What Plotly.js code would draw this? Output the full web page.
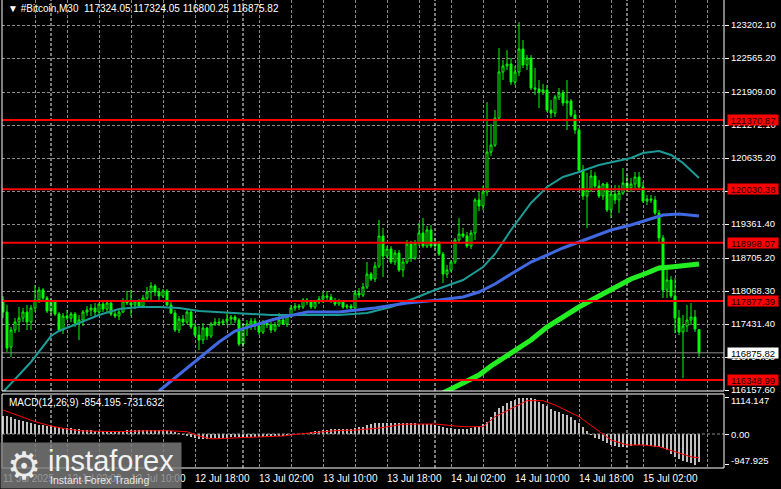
<!DOCTYPE html>
<html><head><meta charset="utf-8">
<script src="https://cdn.plot.ly/plotly-3.0.1.min.js"></script>
<style>html,body{margin:0;padding:0;background:#000;}#chart{width:781px;height:489px;}</style>
</head><body><div id="chart"></div>
<script>
// ---- candle data (30-minute bars, 11 Jul 18:00 .. 15 Jul 09:00) ----
const openP = [117895,117663,116988,117316,117470,117547,117663,117470,117740,117895,
118088,117933,117683,117856,117625,117316,117586,117547,117625,117451,
117509,117663,117702,117740,117663,117818,117721,117837,117625,117586,
117663,117876,117837,117798,117856,117779,117933,118049,118165,118049,
117972,118069,117798,117644,117316,117528,117470,117663,117374,117219,
117123,117354,117200,117432,117470,117451,117490,117528,117567,117509,
117046,117354,117432,117490,117393,117277,117451,117412,117316,117412,
117509,117432,117586,117740,117779,117760,117895,117856,117760,117856,
117914,117972,117953,117876,117818,117876,117760,117779,117740,118030,
117991,118146,118397,118300,118551,119130,118744,118879,118628,118802,
118474,118628,118976,118705,118995,119188,118937,119246,118937,118995,
118783,118397,118474,118628,119053,119169,119130,118937,119188,119825,
119709,119979,120751,120886,121407,122296,122411,122450,122102,122296,
122739,122430,122565,121987,121967,121909,121948,121562,121504,121813,
121890,121697,121736,121465,121176,120404,119902,120018,120288,120095,
119902,120134,119632,119941,119825,119960,120153,120057,120134,120269,
120076,119806,119844,119825,119574,119092,118088,118281,117972,117547,
117277,117393,117509,117567,117324.05];
const highP = [117972,117798,117374,117547,117760,117740,117798,117798,118184,118146,
118126,117972,117914,117895,117663,117644,117702,117663,117663,117605,
117702,117779,117818,117837,117837,117856,117895,117856,117702,117721,
117933,118069,118088,117895,117914,117991,118146,118242,118204,118126,
118107,118107,117856,117702,117586,117605,117702,117702,117451,117393,
117451,117374,117470,117547,117547,117528,117644,117605,117605,117547,
117412,117509,117547,117547,117470,117509,117509,117470,117470,117644,
117605,117625,117798,117837,117818,117933,117933,117895,117895,117972,
118049,118069,118011,117933,117914,117895,117818,117818,118088,118126,
118223,118628,118435,118628,119439,119285,118937,118937,118860,118860,
118705,119053,119034,119053,119381,119478,119323,119343,119092,119034,
118821,118570,118667,119092,119478,119285,119208,119246,119863,119979,
120095,121716,121292,121562,122758,122527,122720,122565,122411,123260,
122913,122623,122623,122373,122141,122064,122045,121755,121852,121987,
121948,122141,121774,121562,121215,120500,120346,120404,120365,120211,
120153,120173,120057,120114,120114,120443,120307,120250,120365,120365,
120173,119921,119921,119902,119632,119150,118570,118358,118319,117702,
117605,117798,117837,117702,117324.05];
const lowP = [117547,116891,116794,117258,117277,117470,117316,117316,117663,117837,
117856,117644,117625,117586,117277,117239,117509,117470,117374,117123,
117393,117586,117586,117586,117625,117663,117663,117586,117547,117509,
117644,117798,117586,117721,117740,117740,117856,117895,117972,117895,
117933,117779,117625,117277,117258,117393,117432,117335,117181,116930,
117046,117123,117161,117393,117393,117412,117412,117412,117451,117007,
116988,117200,117316,117316,117219,117239,117354,117258,117277,117374,
117412,117374,117547,117683,117702,117721,117798,117721,117721,117818,
117837,117895,117837,117779,117779,117721,117721,117721,117702,117933,
117953,118107,118262,118242,118512,118339,118705,118590,118570,118435,
118339,118590,118628,118667,118937,118899,118899,118899,118879,118744,
118223,118319,118435,118590,119014,119092,118899,118879,119053,119613,
119632,119902,120674,120848,121369,122141,122334,122045,122045,122218,
122373,122334,121948,121852,121601,121852,121523,121407,121427,121755,
121639,121176,121427,121099,120365,119825,119285,119979,120018,119863,
119825,119593,119478,119748,119574,119921,119979,119979,120018,120018,
119767,119728,119767,119535,119014,117933,117933,117933,117258,117219,
116389,117277,117412,117277,116800.25];
const closeP = [117663,116968,117316,117470,117547,117663,117470,117740,117895,118088,
117933,117683,117856,117625,117316,117586,117547,117625,117451,117509,
117663,117702,117740,117663,117818,117721,117837,117625,117586,117663,
117876,117837,117798,117856,117779,117933,118049,118165,118049,117972,
118069,117798,117644,117316,117528,117470,117663,117374,117219,117123,
117354,117200,117432,117470,117451,117490,117528,117567,117509,117046,
117354,117432,117490,117393,117277,117451,117412,117316,117412,117509,
117432,117586,117740,117779,117760,117895,117856,117760,117856,117914,
117972,117953,117876,117818,117876,117760,117779,117740,118030,117991,
118146,118397,118300,118551,119130,118744,118879,118628,118802,118474,
118628,118976,118705,118995,119188,118937,119246,118937,118995,118783,
118397,118474,118628,119053,119169,119130,118937,119188,119825,119709,
119979,120751,120886,121407,122296,122411,122450,122102,122296,122739,
122430,122565,121987,121967,121909,121948,121562,121504,121813,121890,
121697,121736,121465,121176,120404,119902,120018,120288,120095,119902,
120134,119632,119941,119825,119960,120153,120057,120134,120269,120076,
119806,119844,119825,119574,119092,118088,118281,117972,117547,117277,
117393,117509,117567,117335,116875.82];

// ---- moving averages, read at selected bars ----
const maTealBars = [0,7,12,14,19,24,29,34,39,44,49,54,59,67,76,84,91,97,103,108,115,120,123,127,132,136,140,144,149,154,157,160,164,167,170,174];
const maTealVals = [116119,116699,117200,117297,117451,117605,117721,117760,117760,117740,117683,117663,117644,117605,117605,117605,117644,117760,117933,118088,118281,118532,118783,119246,119767,120076,120269,120365,120500,120578,120636,120732,120771,120694,120539,120250];
const maBlueBars = [39,49,54,58,62,68,76,84,93,101,109,115,119,123,127,132,136,140,144,148,152,157,161,165,169,174];
const maBlueVals = [116139,116776,117084,117297,117393,117528,117663,117663,117740,117837,117895,117953,118049,118204,118397,118628,118763,118899,119014,119130,119246,119343,119439,119535,119555,119516];
const maGreenBars = [110,119,122,128,132,136,140,144,149,153,157,161,164,167,170,174];
const maGreenVals = [116100,116448,116621,116911,117123,117374,117567,117760,117972,118146,118300,118416,118512,118532,118551,118590];

// ---- MACD(12,26,9) ----
const macdHist = [560,540,520,470,430,400,370,340,300,290,
270,250,240,225,210,195,180,170,160,150,
135,125,115,105,100,95,92,90,90,95,
105,115,120,125,125,125,125,130,128,125,
125,115,95,60,30,-20,-60,-100,-130,-140,
-145,-140,-135,-130,-125,-120,-115,-105,-100,-95,
-90,-88,-85,-82,-80,-78,-75,-72,-70,-65,
-60,-50,-40,-20,0,20,40,60,80,100,
120,130,140,145,150,155,160,165,180,200,
230,270,310,330,345,350,345,340,335,330,
325,330,330,325,320,320,315,300,280,240,
200,180,170,165,160,160,165,180,210,250,
300,370,520,680,790,870,940,1000,1050,1090,
1110,1114.147,1100,1060,990,920,850,780,720,670,
620,570,510,440,330,200,100,-40,-110,-160,
-220,-280,-330,-370,-385,-390,-385,-370,-350,-340,
-340,-350,-365,-385,-390,-420,-500,-620,-700,-780,
-830,-870,-900,-947.925,-854.195];
const signalBars = [0,4,8,12,16,20,25,29,35,41,46,49,52,56,60,66,70,74,78,83,88,94,100,108,115,120,123,127,131,135,138,144,148,152,156,160,164,168,172,174];
const signalVals = [737,560,380,245,150,92,75,72,95,102,70,-60,-150,-133,-110,-82,-61,0,50,102,120,180,300,307,225,225,530,787,1023,1023,890,532,174,-184,-337,-337,-389,-542,-700,-731.632];

// ---- levels and labels ----
const levelPrices = [121370.87, 120030.38, 118998.07, 117877.39, 116348.99];
const levelLabels = ['121370.87','120030.38','118998.07','117877.39','116348.99'];
const currentPrice = 116875.82;
const currentLabel = '116875.82';
const priceTickVals = [123202.10,122565.20,121909.00,121272.10,120635.20,119998.30,119361.40,118705.20,118068.30,117431.40,116794.50,116157.60];
const priceTickText = ['123202.10','122565.20','121909.00','121272.10','120635.20','','119361.40','118705.20','118068.30','117431.40','116794.50','116157.60'];
const macdTickVals = [1114.147, 0, -947.925];
const macdTickText = ['1114.147','0.00','-947.925'];
const timeLabels = ['11 Jul 2025','12 Jul 02:00','12 Jul 10:00','12 Jul 18:00','13 Jul 02:00','13 Jul 10:00','13 Jul 18:00','14 Jul 02:00','14 Jul 10:00','14 Jul 18:00','15 Jul 02:00'];
const timeLabelBars = [0,16,32,48,64,80,96,112,128,144,160];
const daySeparatorBars = [12,60,108,156];
const headerText = '▼ #Bitcoin,M30\u00a0\u00a0117324.05 117324.05 116800.25 116875.82';
const macdHeader = 'MACD(12,26,9) -854.195 -731.632';

// ---- build ----
const W = 781, H = 489;
const px = v => v / W, py = v => (H - v) / H;
const barIndex = closeP.map((_, i) => i);
const gridBars = [];
for (let g = 0; g <= 180; g += 8) gridBars.push(g);
const XR = [-0.25, 180.25];
const FONT = 'Liberation Sans, Arial, sans-serif';
const GRID = '#8c8c8c';
const MAIN_Y = [116139, 123685];
const MACD_Y = [-1044, 1228];

const traces = [];
// background reference lines (drawn first, under the price data)
daySeparatorBars.forEach(b => {
  traces.push({type:'scatter', mode:'lines', x:[b, b], y:MAIN_Y, xaxis:'x', yaxis:'y', line:{color:'#f0f0f0', width:1, dash:'3px,2px'}, hoverinfo:'skip'});
  traces.push({type:'scatter', mode:'lines', x:[b, b], y:MACD_Y, xaxis:'x2', yaxis:'y2', line:{color:'#f0f0f0', width:1, dash:'3px,2px'}, hoverinfo:'skip'});
});
traces.push({type:'scatter', mode:'lines', x:XR, y:[currentPrice, currentPrice], xaxis:'x', yaxis:'y', line:{color:'#8c8c8c', width:1}, hoverinfo:'skip'});
traces.push({type:'scatter', mode:'lines', x:XR, y:[0, 0], xaxis:'x2', yaxis:'y2', line:{color:GRID, width:1, dash:'3px,2px'}, hoverinfo:'skip'});
traces.push(
  {type:'candlestick', x:barIndex, open:openP, high:highP, low:lowP, close:closeP, xaxis:'x', yaxis:'y',
   increasing:{line:{color:'#00ff00', width:1}, fillcolor:'#000000'},
   decreasing:{line:{color:'#00ff00', width:1}, fillcolor:'#00ff00'},
   whiskerwidth:0, hoverinfo:'skip'},
  {type:'scatter', mode:'lines', x:maTealBars, y:maTealVals, xaxis:'x', yaxis:'y', line:{color:'#1c9c96', width:2}, hoverinfo:'skip'},
  {type:'scatter', mode:'lines', x:maBlueBars, y:maBlueVals, xaxis:'x', yaxis:'y', line:{color:'#4169e1', width:3}, hoverinfo:'skip'},
  {type:'scatter', mode:'lines', x:maGreenBars, y:maGreenVals, xaxis:'x', yaxis:'y', line:{color:'#22ee22', width:5}, hoverinfo:'skip'},
  {type:'bar', x:barIndex, y:macdHist, xaxis:'x2', yaxis:'y2', marker:{color:'#c0c0c0', line:{width:0}}, width:0.7, hoverinfo:'skip'},
  {type:'scatter', mode:'lines', x:signalBars, y:signalVals, xaxis:'x2', yaxis:'y2', line:{color:'#ff0000', width:1}, hoverinfo:'skip'}
);

const shapes = [];
levelPrices.forEach(p => {
  shapes.push({type:'line', xref:'x', yref:'y', x0:XR[0], x1:XR[1], y0:p, y1:p, layer:'above', line:{color:'#ff0000', width:2}});
});
shapes.push({type:'rect', xref:'paper', yref:'paper', x0:px(2), x1:px(724), y0:py(391), y1:1.01, line:{color:'#ffffff', width:1}, fillcolor:'rgba(0,0,0,0)', layer:'above'});
shapes.push({type:'rect', xref:'paper', yref:'paper', x0:px(2), x1:px(724), y0:py(468), y1:py(394), line:{color:'#ffffff', width:1}, fillcolor:'rgba(0,0,0,0)', layer:'above'});

const annotations = [];
annotations.push({xref:'paper', yref:'paper', x:px(6), y:py(8), xanchor:'left', yanchor:'middle', text:headerText, showarrow:false, font:{family:FONT, size:10, color:'#ffffff'}});
annotations.push({xref:'paper', yref:'paper', x:px(7), y:py(402), xanchor:'left', yanchor:'middle', text:macdHeader, showarrow:false, font:{family:FONT, size:10, color:'#ffffff'}});
levelPrices.forEach((p, k) => {
  annotations.push({xref:'paper', yref:'y', x:px(727), y:p, xanchor:'left', yanchor:'middle', text:levelLabels[k], showarrow:false,
    bgcolor:'#ff0000', width:50, height:10, borderpad:0, font:{family:FONT, size:9.5, color:'#200000'}});
});
annotations.push({xref:'paper', yref:'y', x:px(727), y:currentPrice, xanchor:'left', yanchor:'middle', text:currentLabel, showarrow:false,
  bgcolor:'#ffffff', width:50, height:10, borderpad:0, font:{family:FONT, size:9.5, color:'#000000'}});
const macdLabelY = [400.7, 434, 460.7];
macdTickText.forEach((t, k) => {
  annotations.push({xref:'paper', yref:'paper', x:px(729), y:py(macdLabelY[k]), xanchor:'left', yanchor:'middle', text:t, showarrow:false, font:{family:FONT, size:9.5, color:'#ffffff'}});
});
timeLabels.forEach((t, k) => {
  annotations.push({xref:'x2', yref:'paper', x:timeLabelBars[k], y:py(478), xanchor:'left', yanchor:'middle', xshift:-2, text:t, showarrow:false, font:{family:FONT, size:10, color:'#ffffff'}});
});
// watermark
annotations.push({xref:'paper', yref:'paper', x:0, y:0, xanchor:'left', yanchor:'bottom', text:' ', showarrow:false, width:180, height:45, borderpad:0, bgcolor:'rgba(125,125,125,0.82)'});
annotations.push({xref:'paper', yref:'paper', x:px(5), y:py(466), xanchor:'left', yanchor:'middle', text:'⚙', showarrow:false, font:{family:'DejaVu Sans', size:38, color:'#ececec'}});
annotations.push({xref:'paper', yref:'paper', x:px(46), y:py(461), xanchor:'left', yanchor:'middle', text:'instaforex', showarrow:false, font:{family:FONT, size:29, color:'#f2f2f2'}});
annotations.push({xref:'paper', yref:'paper', x:px(48), y:py(480), xanchor:'left', yanchor:'middle', text:'Instant Forex Trading', showarrow:false, font:{family:FONT, size:10.5, color:'#e6e6e6'}});

const layout = {
  width:W, height:H, paper_bgcolor:'#000000', plot_bgcolor:'#000000',
  margin:{l:0, r:0, t:0, b:0}, showlegend:false, bargap:0,
  font:{family:FONT, size:10, color:'#ffffff'},
  xaxis:{domain:[px(2), px(724)], range:XR, anchor:'y', tickvals:gridBars, showticklabels:false, ticks:'',
    showgrid:true, gridcolor:GRID, griddash:'3px,2px', gridwidth:1, zeroline:false, showline:false,
    rangeslider:{visible:false}, fixedrange:true},
  yaxis:{domain:[py(391), 1], range:MAIN_Y, anchor:'x', side:'right', tickvals:priceTickVals, ticktext:priceTickText,
    showgrid:true, gridcolor:GRID, griddash:'3px,2px', gridwidth:1, zeroline:false, showline:false,
    ticks:'outside', ticklen:4, tickcolor:'#ffffff', tickfont:{family:FONT, size:9.5, color:'#ffffff'}, fixedrange:true},
  xaxis2:{domain:[px(2), px(724)], range:XR, anchor:'y2', tickvals:gridBars, showticklabels:false, ticks:'',
    showgrid:true, gridcolor:GRID, griddash:'3px,2px', gridwidth:1, zeroline:false, showline:false, fixedrange:true},
  yaxis2:{domain:[py(468), py(394)], range:MACD_Y, anchor:'x2', side:'right', tickvals:macdTickVals,
    showticklabels:false, showgrid:false, zeroline:false, showline:false, ticks:'outside', ticklen:4, tickcolor:'#ffffff', fixedrange:true},
  shapes:shapes, annotations:annotations
};
Plotly.newPlot('chart', traces, layout, {staticPlot:true, displayModeBar:false});
</script></body></html>
